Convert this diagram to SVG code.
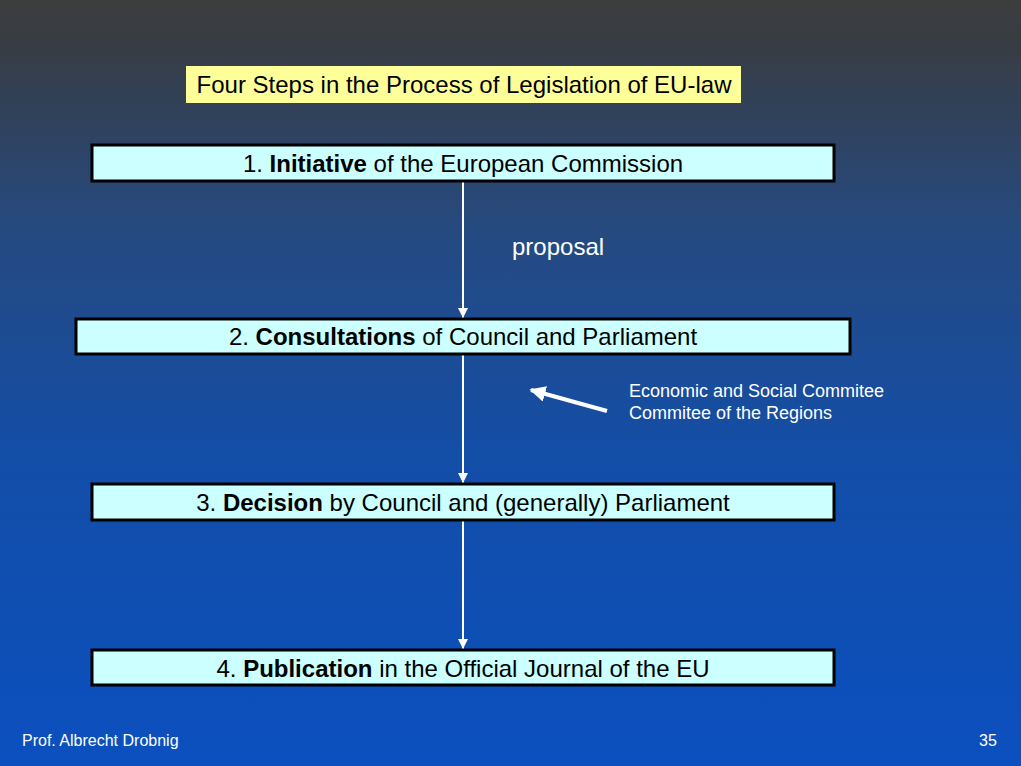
<svg xmlns="http://www.w3.org/2000/svg" width="1021" height="766" viewBox="0 0 1021 766">
<defs>
<linearGradient id="bg" x1="0" y1="0" x2="0" y2="1">
<stop offset="0" stop-color="#3d3d3d"/>
<stop offset="0.05" stop-color="#383c42"/>
<stop offset="0.3" stop-color="#264a80"/>
<stop offset="0.6" stop-color="#134ea8"/>
<stop offset="1" stop-color="#0b50bf"/>
</linearGradient>
<marker id="ah" viewBox="0 0 10 10" refX="10" refY="5" markerWidth="10" markerHeight="10" markerUnits="userSpaceOnUse" orient="auto">
<path d="M0,0 L10,5 L0,10 Z" fill="#ffffff"/>
</marker>
<marker id="ah2" viewBox="0 0 10 10" refX="9" refY="5" markerWidth="4" markerHeight="4" orient="auto">
<path d="M0,0 L10,5 L0,10 Z" fill="#ffffff"/>
</marker>
</defs>
<style>
.box{fill:#ccffff;stroke:#000;stroke-width:3}
.t{font-family:"Liberation Sans",Arial,sans-serif;font-size:24px;fill:#000;text-anchor:middle}
.w{font-family:"Liberation Sans",Arial,sans-serif;fill:#fff}
.c{stroke:#fff;stroke-width:2;fill:none}
</style>
<rect width="1021" height="766" fill="url(#bg)"/>
<g id="title">
<rect x="186" y="66" width="555" height="37" fill="#ffff99"/>
<text class="t" x="464" y="93">Four Steps in the Process of Legislation of EU-law</text>
</g>
<g id="connectors">
<line class="c" x1="463" y1="182" x2="463" y2="318" marker-end="url(#ah)"/>
<line class="c" x1="463" y1="355" x2="463" y2="483" marker-end="url(#ah)"/>
<line class="c" x1="463" y1="521" x2="463" y2="649" marker-end="url(#ah)"/>
<line x1="607" y1="411" x2="531" y2="390" stroke="#fff" stroke-width="4" marker-end="url(#ah2)"/>
</g>
<g id="step1">
<rect class="box" x="92" y="145" width="742" height="36"/>
<text class="t" x="463" y="172">1. <tspan font-weight="bold">Initiative</tspan> of the European Commission</text>
</g>
<g id="proposal">
<text class="w" x="512" y="255" font-size="24">proposal</text>
</g>
<g id="step2">
<rect class="box" x="76" y="319" width="774" height="35"/>
<text class="t" x="463" y="345">2. <tspan font-weight="bold">Consultations</tspan> of Council and Parliament</text>
</g>
<g id="committees">
<text class="w" x="629" y="397" font-size="18">Economic and Social Commitee</text>
<text class="w" x="629" y="419" font-size="18">Commitee of the Regions</text>
</g>
<g id="step3">
<rect class="box" x="92" y="484" width="742" height="36"/>
<text class="t" x="463" y="511">3. <tspan font-weight="bold">Decision</tspan> by Council and (generally) Parliament</text>
</g>
<g id="step4">
<rect class="box" x="92" y="650" width="742" height="35"/>
<text class="t" x="463" y="677">4. <tspan font-weight="bold">Publication</tspan> in the Official Journal of the EU</text>
</g>
<g id="footer">
<text class="w" x="22" y="746" font-size="16">Prof. Albrecht Drobnig</text>
<text class="w" x="979" y="746" font-size="16">35</text>
</g>
</svg>
